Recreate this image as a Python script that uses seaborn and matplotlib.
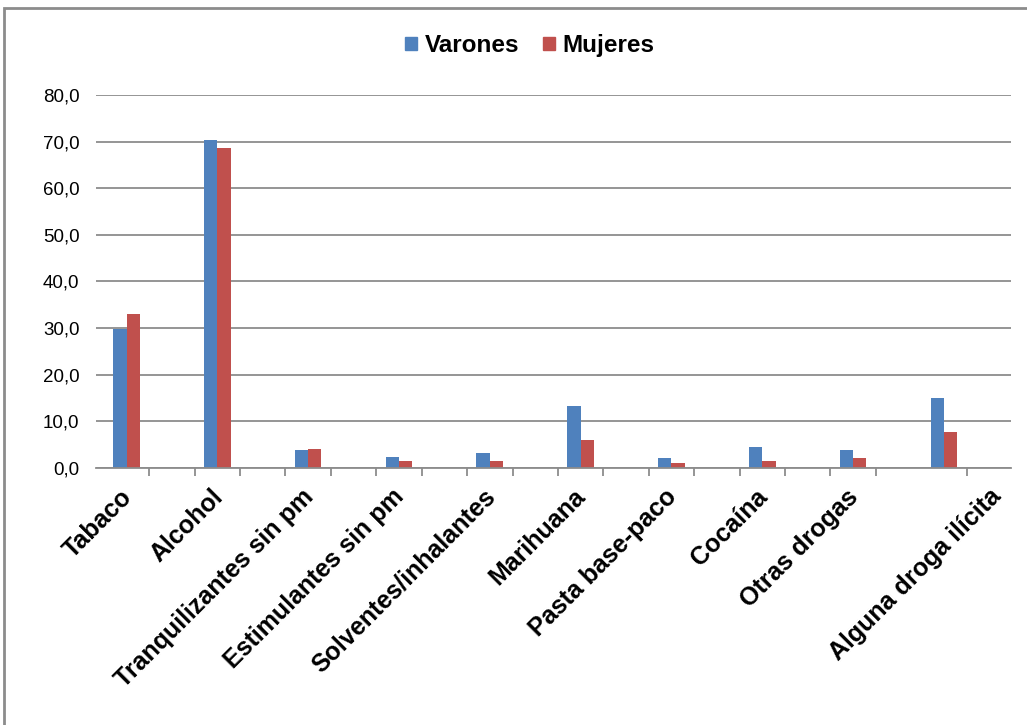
import numpy as np
import pandas as pd
import matplotlib
matplotlib.use("Agg")
import matplotlib.pyplot as plt
import matplotlib.transforms as mtransforms
import seaborn as sns
from matplotlib.patches import Rectangle
from matplotlib.ticker import FuncFormatter, FixedLocator

# Datos
sustancias = ["Tabaco", "Alcohol", "Tranquilizantes sin pm", "Estimulantes sin pm",
              "Solventes/inhalantes", "Marihuana", "Pasta base-paco", "Cocaína",
              "Otras drogas", "Alguna droga ilícita"]
varones = [29.8, 70.3, 3.9, 2.4, 3.3, 13.2, 2.1, 4.4, 3.8, 15.1]
mujeres = [33.0, 68.7, 4.1, 1.4, 1.6, 6.0, 1.1, 1.6, 2.1, 7.7]
series = ["Varones", "Mujeres"]
colores = ["#4F81BD", "#C0504D"]

df = pd.DataFrame({
    "Sustancia": sustancias * 2,
    "Porcentaje": varones + mujeres,
    "Sexo": [series[0]] * len(sustancias) + [series[1]] * len(sustancias),
})

sns.set_style("white")
plt.rcParams["font.family"] = ["Liberation Sans", "DejaVu Sans"]
plt.rcParams["text.color"] = "black"

fig = plt.figure(figsize=(10.27, 7.25), dpi=100)
ax = fig.add_axes([0.0935, 0.3545, 0.891, 0.5145])

sns.barplot(data=df, x="Sustancia", y="Porcentaje", hue="Sexo", hue_order=series,
            palette=colores, width=0.293, dodge=True, ax=ax, legend=False,
            errorbar=None, saturation=1, linewidth=0)

ax.set_xlim(-0.336, 9.74)
ax.set_ylim(0, 80)
ax.set_yticks(np.arange(0, 81, 10))
ax.yaxis.set_major_formatter(FuncFormatter(lambda v, p: f"{v:.1f}".replace(".", ",")))
ax.yaxis.grid(True, color="#8c8c8c", linewidth=1.3)
ax.set_axisbelow(True)
ax.set_xlabel("")
ax.set_ylabel("")

for s in ["top", "right", "left"]:
    ax.spines[s].set_visible(False)
ax.spines["bottom"].set_color("#8c8c8c")
ax.spines["bottom"].set_linewidth(1.3)

ax.tick_params(axis="y", length=0, labelsize=13.5, pad=12, labelcolor="black")
ax.tick_params(axis="x", which="major", length=0, pad=12, labelcolor="black")
# marcas entre categorias (el original omite una cerca del final)
marcas = [m for m in np.arange(0.25, 9.8, 0.5) if abs(m - 8.75) > 0.01]
ax.xaxis.set_minor_locator(FixedLocator(marcas))
ax.tick_params(axis="x", which="minor", bottom=True, direction="out", length=6,
               color="#8c8c8c", width=1.3)

ax.set_xticks(range(len(sustancias)))
etiquetas = ax.set_xticklabels(sustancias, rotation=45, ha="right", rotation_mode="anchor",
                               fontsize=18, fontweight="bold", color="black")
for i, lab in enumerate(etiquetas):
    dx = 0.45 if i == len(etiquetas) - 1 else -0.07
    lab.set_transform(lab.get_transform() +
                      mtransforms.ScaledTranslation(dx, 0, fig.dpi_scale_trans))

# leyenda
handles = [Rectangle((0, 0), 1, 1, color=c) for c in colores]
fig.legend(handles, series, loc="center", bbox_to_anchor=(0.516, 0.937), ncol=2,
           frameon=False, handlelength=0.5, handleheight=0.5, handletextpad=0.3,
           columnspacing=1.0, labelcolor="black", prop={"weight": "bold", "size": 17.5})

# borde del area del grafico
fig.patches.append(Rectangle((4 / 1027, -0.05), 1.1, 1 - 7.5 / 725 + 0.05,
                             transform=fig.transFigure, fill=False,
                             edgecolor="#8c8c8c", linewidth=2))

fig.savefig("out.png", dpi=100)
